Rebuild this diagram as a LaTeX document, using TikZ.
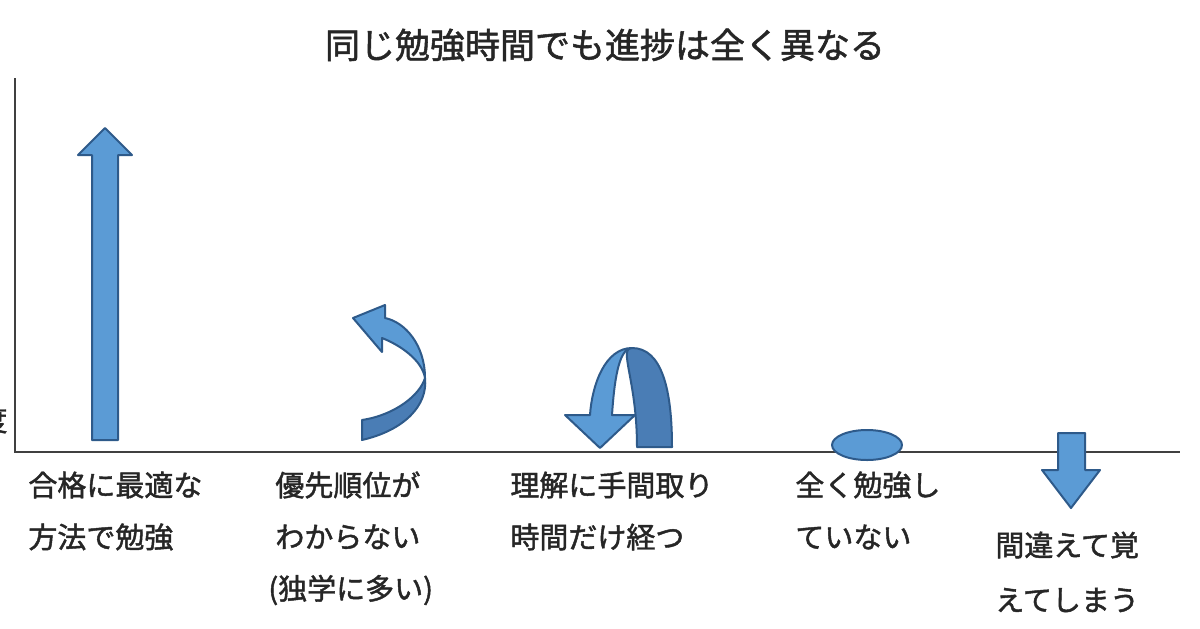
\documentclass[tikz,border=0pt]{standalone}
\usepackage{fontspec}
\setmainfont{Noto Sans CJK JP}[FakeBold=1.5,AutoFakeBold=1.5]
\begin{document}
\begin{tikzpicture}[x=0.5pt,y=-0.5pt,
  lt/.style={fill=lblue,draw=eblue,line width=1pt,line join=round},
  dk/.style={fill=dblue,draw=eblue,line width=1pt,line join=round},
  lbl/.style={anchor=west,font=\bfseries\fontsize{14.5}{16}\selectfont,text=black!85,inner sep=0pt},
  ax/.style={draw=black!75,line width=0.8pt}]
\definecolor{lblue}{HTML}{5B9BD5}
\definecolor{dblue}{HTML}{4A7DB5}
\definecolor{eblue}{HTML}{2E5A8A}
\useasboundingbox (0,0) rectangle (1200,628);
\fill[white] (0,0) rectangle (1200,628);
\node[font=\bfseries\fontsize{17.5}{20}\selectfont,text=black!85] (title) at (605,45) {同じ勉強時間でも進捗は全く異なる};
\coordinate (o) at (15,452);
\coordinate (yt) at (15,78);
\coordinate (xe) at (1180,452);
\draw[ax] (yt) -- (o) -- (xe);
\node[lbl,anchor=east] (ylab) at (8,420) {度};
% up arrow
\draw[lt] (92,440) -- (118,440) -- (118,155) -- (132,155) -- (105,128) -- (78,155) -- (92,155) -- cycle;
% curved arrow
\draw[dk] (362,440) .. controls (405,430) and (428,405) .. (425,378)
  .. controls (420,395) and (395,415) .. (362,420) -- cycle;
\draw[lt] (425,378) .. controls (425,345) and (405,322) .. (385,318) -- (385,305) -- (353,318) -- (382,352) -- (382,338)
  .. controls (400,345) and (422,360) .. (425,378) -- cycle;
% U-turn arrow
\draw[dk] (637,447) -- (672,447) .. controls (672,390) and (662,348) .. (632,348)
  .. controls (618,348) and (637,380) .. (637,447) -- cycle;
\draw[lt] (632,348) .. controls (605,348) and (592,385) .. (590,415) -- (565,415) -- (600,448) -- (635,415) -- (612,415)
  .. controls (614,385) and (618,348) .. (632,348) -- cycle;
% ellipse
\draw[lt] (867,445) ellipse [x radius=35, y radius=15];
% down arrow
\draw[lt] (1058,433) -- (1085,433) -- (1085,470) -- (1100,470) -- (1071,508) -- (1042,470) -- (1058,470) -- cycle;
% labels
\node[lbl] (a1) at (28,485) {合格に最適な};
\node[lbl] (a2) at (28,537) {方法で勉強};
\node[lbl] (b1) at (275,485) {優先順位が};
\node[lbl] (b2) at (275,537) {わからない};
\node[lbl] (b3) at (268,590) {(独学に多い)};
\node[lbl] (c1) at (510,485) {理解に手間取り};
\node[lbl] (c2) at (510,537) {時間だけ経つ};
\node[lbl] (d1) at (795,485) {全く勉強し};
\node[lbl] (d2) at (795,537) {ていない};
\node[lbl] (e1) at (995,545) {間違えて覚};
\node[lbl] (e2) at (995,600) {えてしまう};
\end{tikzpicture}
\end{document}
